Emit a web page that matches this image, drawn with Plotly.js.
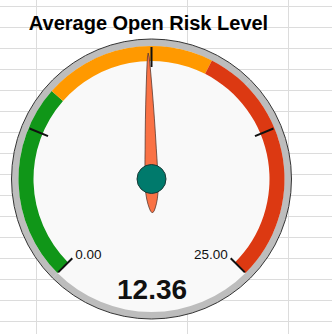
<!DOCTYPE html>
<html>
<head>
<meta charset="utf-8">
<script src="https://cdn.plot.ly/plotly-3.0.1.min.js"></script>
<style>
  html, body { margin: 0; padding: 0; background: #ffffff; }
  #chart { width: 332px; height: 334px; }
</style>
</head>
<body>
<div id="chart"></div>
<script>
// ---- data ----
const chartTitle = 'Average Open Risk Level';
const gaugeValue = 12.36;
const gaugeMin = 0;
const gaugeMax = 25;
const bandFrom = [0, 8, 15];
const bandTo = [8, 15, 25];
const bandColors = ['#109618', '#FF9900', '#DC3912'];
const majorTicks = [0, 6.25, 12.5, 18.75, 25];
const tickLabels = ['0.00', '', '', '', '25.00'];

// ---- style constants ----
const W = 332, H = 334;
const CX = 151.5, CY = 179, R = 140;
const SWEEP = 270;
const RING_IN = 133, BAND_IN = 118;
const TICK_IN = 112, TICK_OUT = 132;
const LABEL_R = 108;
// needle profile: distance along the needle and half width
const NEEDLE_D = [-34, -32, -29, -25, -20, -14, -7, 0, 10, 20, 30, 45, 60, 75, 90, 105, 115, 122, 126];
const NEEDLE_W = [0, 1.8, 3.0, 4.2, 5.3, 6.1, 6.5, 6.5, 6.3, 6.0, 5.6, 5.1, 4.5, 3.8, 3.0, 2.1, 1.4, 0.8, 0];

const toTheta = v => (v - gaugeMin) / (gaugeMax - gaugeMin) * SWEEP;
const deg = rad => rad * 180 / Math.PI;

const traces = [];

// empty cartesian trace so the spreadsheet grid axes are drawn
traces.push({type: 'scatter', x: [], y: [], xaxis: 'x', yaxis: 'y', hoverinfo: 'skip', showlegend: false});

// outer grey ring (two halves)
traces.push({
  type: 'barpolar', subplot: 'polar',
  r: [R - RING_IN, R - RING_IN], base: [RING_IN, RING_IN],
  theta: [90, 270], width: [180, 180],
  marker: {color: '#BDBDBD', line: {width: 0}},
  hoverinfo: 'skip', showlegend: false
});

// colour bands
traces.push({
  type: 'barpolar', subplot: 'polar',
  r: bandFrom.map(() => RING_IN - BAND_IN),
  base: bandFrom.map(() => BAND_IN),
  theta: bandFrom.map((f, i) => (toTheta(f) + toTheta(bandTo[i])) / 2),
  width: bandFrom.map((f, i) => toTheta(bandTo[i]) - toTheta(f)),
  marker: {color: bandColors, line: {width: 0}},
  hoverinfo: 'skip', showlegend: false
});

// major ticks
const tr = [], tt = [];
majorTicks.forEach(v => { tr.push(TICK_IN, TICK_OUT, null); tt.push(toTheta(v), toTheta(v), null); });
traces.push({
  type: 'scatterpolar', subplot: 'polar', mode: 'lines',
  r: tr, theta: tt, line: {color: '#111111', width: 2},
  hoverinfo: 'skip', showlegend: false, connectgaps: false
});

// tick labels
const lr = [], lt = [], ltext = [], lpos = [];
majorTicks.forEach((v, i) => {
  if (tickLabels[i]) {
    lr.push(LABEL_R); lt.push(toTheta(v)); ltext.push(tickLabels[i]);
    lpos.push(toTheta(v) < SWEEP / 2 ? 'middle right' : 'middle left');
  }
});
traces.push({
  type: 'scatterpolar', subplot: 'polar', mode: 'text',
  r: lr, theta: lt, text: ltext, textposition: lpos,
  textfont: {family: 'Arial, "Liberation Sans", sans-serif', size: 13.5, color: '#111111'},
  hoverinfo: 'skip', showlegend: false
});

// needle
const nTheta = toTheta(gaugeValue);
const nr = [], nt = [];
for (let i = 0; i < NEEDLE_D.length; i++) {
  nr.push(Math.hypot(NEEDLE_D[i], NEEDLE_W[i]));
  nt.push(nTheta + deg(Math.atan2(NEEDLE_W[i], NEEDLE_D[i])));
}
for (let i = NEEDLE_D.length - 1; i >= 0; i--) {
  nr.push(Math.hypot(NEEDLE_D[i], NEEDLE_W[i]));
  nt.push(nTheta - deg(Math.atan2(NEEDLE_W[i], NEEDLE_D[i])));
}
traces.push({
  type: 'scatterpolar', subplot: 'polar', mode: 'lines',
  r: nr, theta: nt, fill: 'toself', fillcolor: '#FA7245',
  line: {color: '#5a3a30', width: 0.8, shape: 'linear'},
  hoverinfo: 'skip', showlegend: false
});

// hub
traces.push({
  type: 'scatterpolar', subplot: 'polar', mode: 'markers',
  r: [0], theta: [0],
  marker: {size: 29, color: '#007A6C', line: {color: '#1b3a36', width: 1}},
  hoverinfo: 'skip', showlegend: false
});

const gridX = [36, 187, 288];
const gridY = [];
for (let k = 0; k < 16; k++) gridY.push(6 + 21 * k);

const layout = {
  width: W, height: H,
  margin: {l: 0, r: 0, t: 0, b: 0, pad: 0},
  paper_bgcolor: '#ffffff', plot_bgcolor: '#ffffff',
  showlegend: false,
  title: {
    text: '<b>' + chartTitle + '</b>',
    x: 148.5 / W, xanchor: 'center', xref: 'paper',
    y: 1 - 22.5 / H, yanchor: 'middle', yref: 'paper',
    font: {family: 'Arial, "Liberation Sans", sans-serif', size: 20, color: '#000000'}
  },
  xaxis: {
    domain: [0, 1], range: [0, W], fixedrange: true,
    tickvals: gridX, showticklabels: false, ticks: '',
    showgrid: true, gridcolor: '#dcdcdc', gridwidth: 1,
    zeroline: false, showline: false
  },
  yaxis: {
    domain: [0, 1], range: [H, 0], fixedrange: true,
    tickvals: gridY, showticklabels: false, ticks: '',
    showgrid: true, gridcolor: '#dcdcdc', gridwidth: 1,
    zeroline: false, showline: false
  },
  polar: {
    domain: {x: [(CX - R) / W, (CX + R) / W], y: [(H - CY - R) / H, (H - CY + R) / H]},
    bgcolor: '#F9F9F9',
    bargap: 0,
    radialaxis: {visible: false, range: [0, R], showgrid: false},
    angularaxis: {
      rotation: 225, direction: 'clockwise', thetaunit: 'degrees',
      showgrid: false, showticklabels: false, ticks: '',
      showline: true, linecolor: '#333333', linewidth: 1
    }
  },
  annotations: [{
    text: '<b>' + gaugeValue.toFixed(2) + '</b>',
    xref: 'paper', yref: 'paper',
    x: 151.5 / W, y: 1 - 289.2 / H, xanchor: 'center', yanchor: 'middle',
    showarrow: false,
    font: {family: 'Arial, "Liberation Sans", sans-serif', size: 28, color: '#111111'}
  }]
};

Plotly.newPlot('chart', traces, layout, {displayModeBar: false, staticPlot: true});
</script>
</body>
</html>
